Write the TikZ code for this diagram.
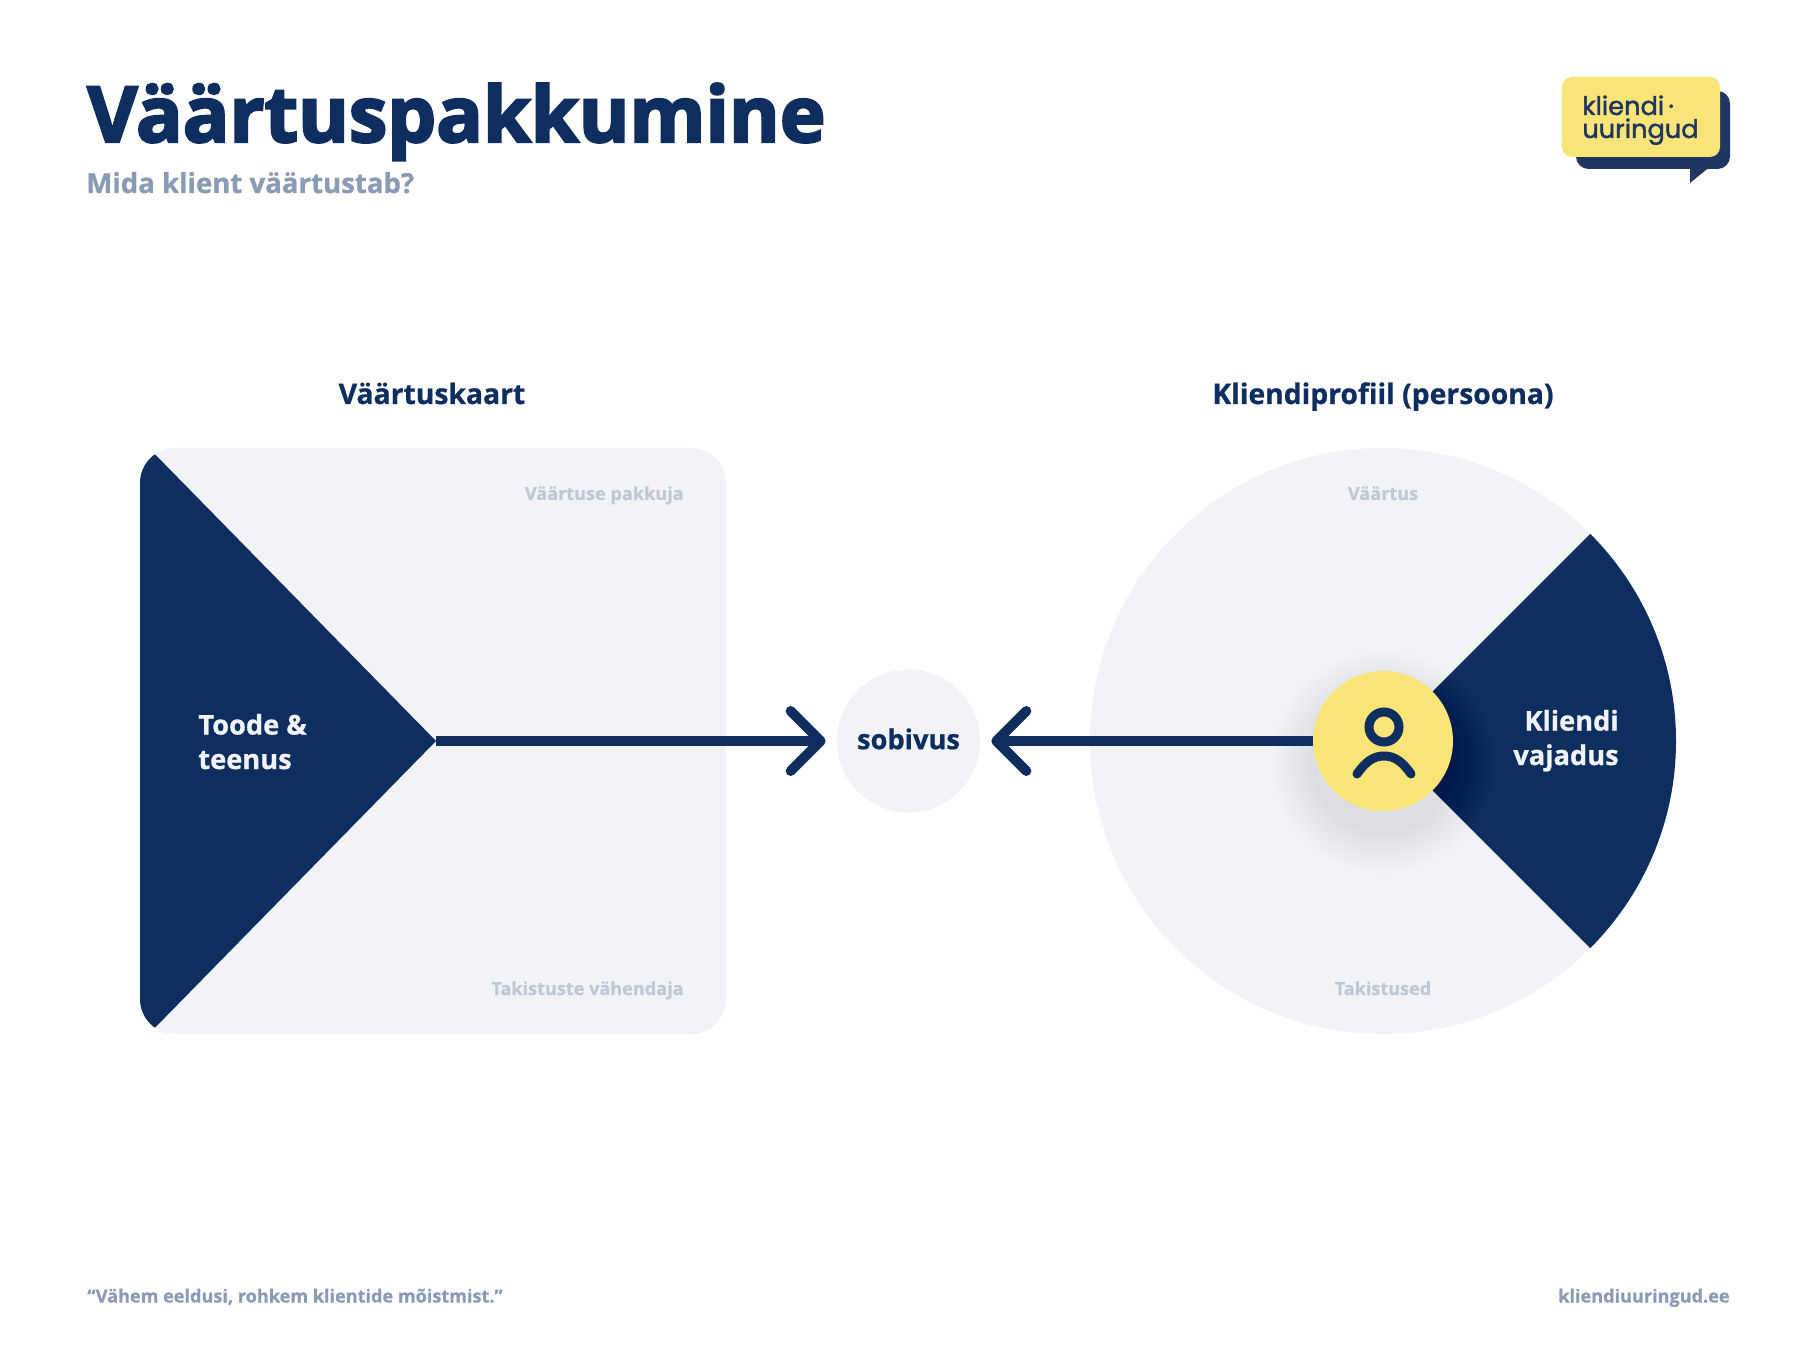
\documentclass[tikz,border=0pt]{standalone}
\usepackage{fontspec}
\setmainfont{Open Sans}[BoldFeatures={FakeBold=.8}]
\newfontfamily\heavyfont{Open Sans}[BoldFeatures={FakeBold=3}]
\newfontfamily\logofont{Poppins}[FakeBold=1.5]
\usetikzlibrary{arrows.meta}
\definecolor{navy}{HTML}{0E2E60}
\definecolor{logonavy}{HTML}{203560}
\definecolor{pale}{HTML}{F2F3F7}
\definecolor{sun}{HTML}{F9E577}
\definecolor{muted}{HTML}{8A9BB5}
\definecolor{faint}{HTML}{BEC8D6}
\tikzset{
  heading/.style={text=navy,font=\fontsize{16.1}{18}\selectfont\bfseries,inner sep=0pt},
  corner/.style={text=faint,font=\fontsize{10.3}{12}\selectfont\bfseries,inner sep=0pt},
  footer/.style={text=muted,font=\fontsize{10.3}{12}\selectfont\bfseries,inner sep=0pt},
  inlabel/.style={text=pale,font=\fontsize{15.5}{19.6}\selectfont\bfseries,inner sep=0pt},
  logotext/.style={anchor=base west,inner sep=0pt,text=logonavy,font=\fontsize{14.6}{17}\logofont\selectfont},
  fitline/.style={navy,line width=.19cm,-{Straight Barb[length=.6cm,width=1.2cm,line width=.2cm,round]}},
  icon/.style={navy,line width=.18cm,line cap=round}
}
\begin{document}
\begin{tikzpicture}[x=.02cm,y=-.02cm]
\useasboundingbox (0,0) rectangle (1816,1358);
\fill[white] (0,0) rectangle (1816,1358);
% titles
\node[anchor=base west,inner sep=0pt,text=navy,font=\fontsize{44}{50}\selectfont\heavyfont\bfseries] (title) at (87,142) {Väärtuspakkumine};
\node[anchor=base west,inner sep=0pt,text=muted,font=\fontsize{15.7}{18}\selectfont\bfseries] (subtitle) at (86,193) {Mida klient väärtustab?};
% logo
\fill[logonavy,rounded corners=.25cm] (1576,91) rectangle (1730,169);
\fill[logonavy] (1690,165)--(1690,183)--(1712,165)--cycle;
\fill[sun,rounded corners=.2cm] (1562,77) rectangle (1720,157);
\node[logotext] (logoa) at (1582,115) {kliendi\,·};
\node[logotext] (logob) at (1582,138) {uuringud};
% left card
\node[heading,anchor=base] (maptitle) at (432,404) {Väärtuskaart};
\fill[pale,rounded corners=.7cm] (140,448) rectangle (726,1034);
\begin{scope}
  \clip[rounded corners=.7cm] (140,448) rectangle (726,1034);
  \fill[navy] (436,741)--(140,439)--(140,1043)--cycle;
\end{scope}
\coordinate (apex) at (436,741);
\node[corner,anchor=base east] (provider) at (684,500) {Väärtuse pakkuja};
\node[corner,anchor=base east] (reducer) at (684,995) {Takistuste vähendaja};
\node[inlabel,anchor=base west,align=left] (product) at (198,769) {Toode \&\\teenus};
% fit circle
\node[circle,fill=pale,minimum size=2.86cm,inner sep=0pt,text=navy,font=\fontsize{15.5}{18}\selectfont\bfseries] (fit) at (908.5,741) {\raisebox{2.5pt}{sobivus}};
% right circle
\node[heading,anchor=base] (profiletitle) at (1383,404) {Kliendiprofiil (persoona)};
\fill[pale] (1383,741) circle (293);
\begin{scope}
  \clip (1383,741) circle (293);
  \fill[navy] (1383,741)--(1783,341)--(1783,1141)--cycle;
\end{scope}
\node[corner,anchor=base] (value) at (1383,500) {Väärtus};
\node[corner,anchor=base] (obstacle) at (1383,995) {Takistused};
\node[inlabel,anchor=base east,align=right] (need) at (1619,765) {Kliendi\\vajadus};
% shadow
\foreach \r in {70,72,...,112} {
  \fill[black,opacity=.004] (1383,762) circle (\r);
}
\node[circle,fill=sun,minimum size=2.8cm,inner sep=0pt] (persona) at (1383,741) {};
\draw[icon] (1384,727) circle (15);
\draw[icon] (1357,774) .. controls (1366,761) and (1374,756) .. (1384,756) .. controls (1394,756) and (1402,761) .. (1411,774);
% connectors
\draw[fitline,shorten >=.22cm] (apex) -- (fit);
\draw[fitline,shorten >=.22cm] (persona) -- (fit);
% footer
\node[footer,anchor=base west] (quote) at (87,1302.5) {“Vähem eeldusi, rohkem klientide mõistmist.”};
\node[footer,anchor=base east] (site) at (1730,1302.5) {kliendiuuringud.ee};
\end{tikzpicture}
\end{document}
